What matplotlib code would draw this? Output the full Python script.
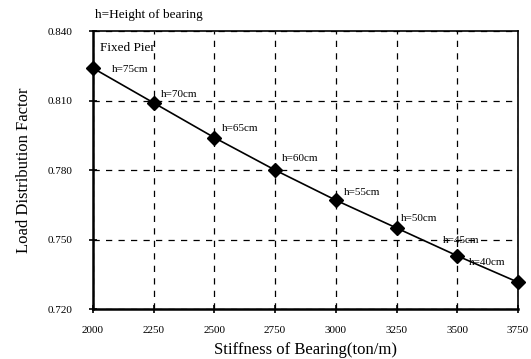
import matplotlib
matplotlib.use("Agg")
import matplotlib.pyplot as plt

stiffness = [2000, 2250, 2500, 2750, 3000, 3250, 3500, 3750]
ldf = [0.824, 0.809, 0.794, 0.780, 0.767, 0.755, 0.743, 0.7316]
labels = ["h=75cm", "h=70cm", "h=65cm", "h=60cm", "h=55cm", "h=50cm", "h=45cm", "h=40cm"]
label_pos = [(2078, 0.8232), (2280, 0.8124), (2531, 0.7981), (2778, 0.7852),
             (3034, 0.7705), (3268, 0.7589), (3441, 0.7498), (3548, 0.7399)]
xticks = [2000, 2250, 2500, 2750, 3000, 3250, 3500, 3750]
yticks = [0.720, 0.750, 0.780, 0.810, 0.840]

plt.rcParams['font.family'] = ['Liberation Serif', 'DejaVu Serif']

fig = plt.figure(figsize=(5.31, 3.59), dpi=100)
ax = fig.add_axes([0.175, 0.139, 0.8005, 0.7746])

ax.plot(stiffness, ldf, color='black', lw=1.2, marker='D', markersize=7.5,
        zorder=3, clip_on=False)
for t, (x, y) in zip(labels, label_pos):
    ax.text(x, y, t, ha='left', va='center', fontsize=8, zorder=4)
ax.text(2029, 0.8327, "Fixed Pier", ha='left', va='center', fontsize=9.5)

ax.set_xlim(2000, 3750)
ax.set_ylim(0.720, 0.840)
ax.set_xticks(xticks)
ax.set_yticks(yticks)
ax.set_yticklabels([f"{v:.3f}" for v in yticks])
ax.tick_params(labelsize=8, direction='inout', length=6, width=1.2)
ax.tick_params(axis='y', pad=12)
ax.tick_params(axis='x', pad=9)
ax.grid(True, color='black', linestyle=(0, (5, 5)), lw=0.9)
ax.set_axisbelow(True)
for s in ['left', 'bottom']:
    ax.spines[s].set_linewidth(1.8)
for s in ['top', 'right']:
    ax.spines[s].set_linewidth(1.2)

ax.set_xlabel("Stiffness of Bearing(ton/m)", fontsize=12, labelpad=5)
ax.set_ylabel("Load Distribution Factor", fontsize=12, labelpad=11)
fig.text(95/531, 1 - 15/359, "h=Height of bearing", ha='left', va='center', fontsize=9.5)

fig.savefig("out.png", dpi=100)
